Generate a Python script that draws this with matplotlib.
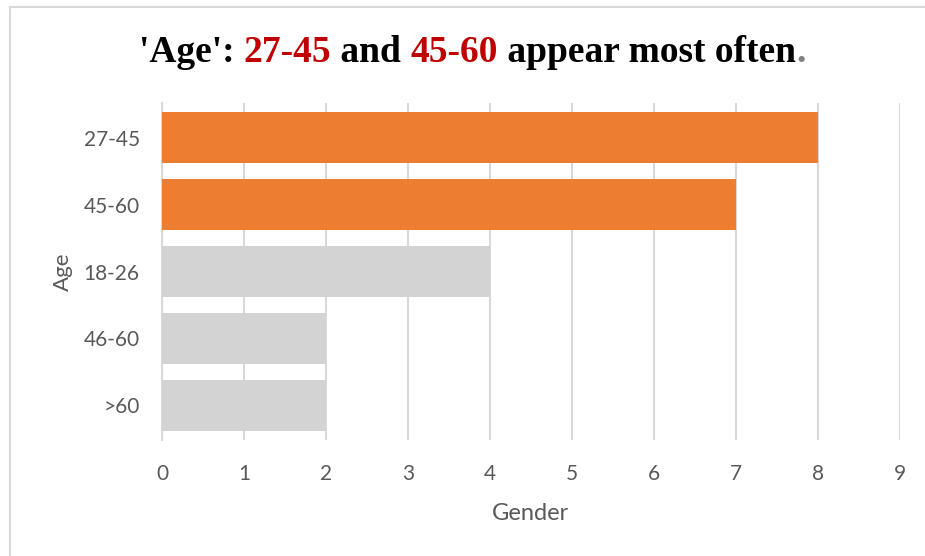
import matplotlib
matplotlib.use("Agg")
import matplotlib.pyplot as plt
from matplotlib.lines import Line2D

# Age groups, counted occurrences
categories = ["27-45", "45-60", "18-26", "46-60", ">60"]
counts = [8, 7, 4, 2, 2]
highlight = ["27-45", "45-60"]
x_ticks = list(range(0, 10))

ORANGE = "#ED7D31"
GREY_BAR = "#D3D3D3"
GRID = "#D9D9D9"
TEXT = "#595959"
RED = "#C00000"

plt.rcParams["font.family"] = ["Lato", "DejaVu Sans"]

fig = plt.figure(figsize=(9.25, 5.56), dpi=100)
ax = fig.add_axes([0.1751, 0.2086, 0.7979, 0.6061])

colors = [ORANGE if c in highlight else GREY_BAR for c in categories]
ax.barh(range(len(categories)), counts, height=0.76, color=colors, zorder=3)

ax.set_xlim(0, 9)
ax.set_ylim(4.52, -0.52)
ax.set_xticks(x_ticks)
ax.set_yticks(range(len(categories)))
ax.set_yticklabels(categories)
ax.grid(axis="x", color=GRID, linewidth=1.5, zorder=0)
ax.tick_params(axis="both", length=0, labelsize=15, labelcolor=TEXT)
ax.tick_params(axis="x", pad=17)
ax.tick_params(axis="y", pad=16)
for side in ["top", "right", "bottom"]:
    ax.spines[side].set_visible(False)
ax.spines["left"].set_color(GRID)
ax.spines["left"].set_linewidth(1.5)

ax.set_xlabel("Gender", fontsize=17, color=TEXT, labelpad=14)
ax.set_ylabel("Age", fontsize=16, color=TEXT, labelpad=8)

# thin frame around the chart area
fig.add_artist(Line2D([0.0103, 1.0], [0.988, 0.988], color=GRID, linewidth=1.5))
fig.add_artist(Line2D([0.0103, 0.0103], [0.0, 0.988], color=GRID, linewidth=1.5))

# title built from coloured pieces
pieces = [("'Age': ", "black"), ("27-45", RED), (" and ", "black"),
          ("45-60", RED), (" appear most often", "black"), (".", "#7F7F7F")]
title_y = 0.888
texts = []
for s, c in pieces:
    t = fig.text(0, title_y, s, color=c, fontsize=27, fontweight="bold",
                 family="Liberation Serif", va="baseline", ha="left")
    texts.append(t)
fig.canvas.draw()
renderer = fig.canvas.get_renderer()
widths = [t.get_window_extent(renderer).width for t in texts]
total = sum(widths)
x0 = 472 - total / 2
for t, w in zip(texts, widths):
    t.set_x(x0 / 925)
    x0 += w

fig.savefig("out.png", dpi=100, facecolor="white")
